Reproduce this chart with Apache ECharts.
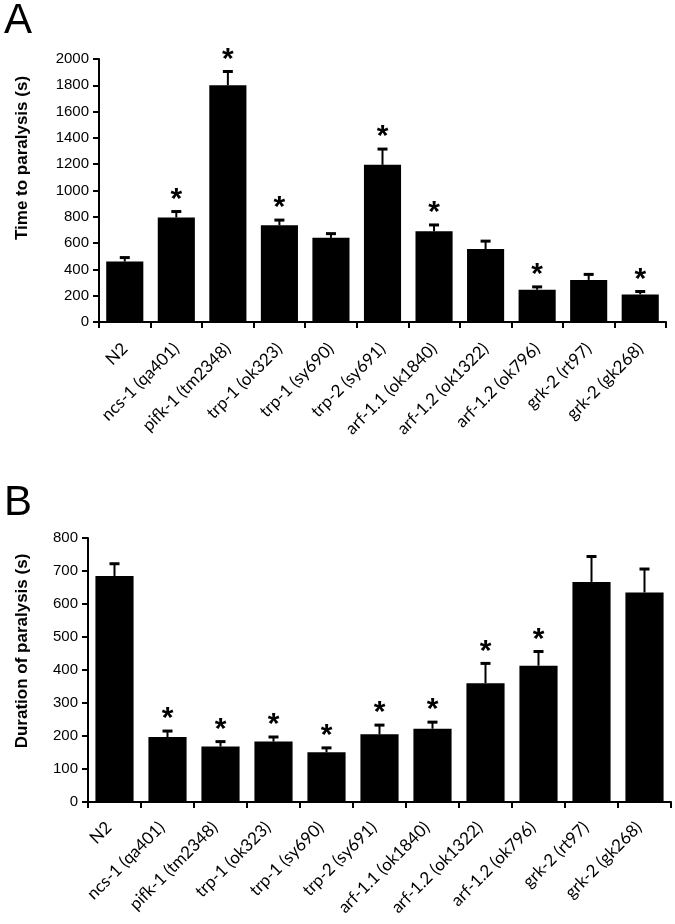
<!DOCTYPE html>
<html>
<head>
<meta charset="utf-8">
<script src="https://cdn.jsdelivr.net/npm/echarts@6/dist/echarts.min.js"></script>
<style>
html,body{margin:0;padding:0;background:#fff;}
#c{width:675px;height:924px;}
</style>
</head>
<body>
<div id="c"></div>
<script>
const categories = ['N2','ncs-1 (qa401)','pifk-1 (tm2348)','trp-1 (ok323)','trp-1 (sy690)','trp-2 (sy691)','arf-1.1 (ok1840)','arf-1.2 (ok1322)','arf-1.2 (ok796)','grk-2 (rt97)','grk-2 (gk268)'];

const timeMean = [460, 795, 1800, 735, 640, 1195, 690, 555, 245, 320, 210];
const timeErr  = [30, 45, 105, 40, 32, 120, 48, 60, 22, 42, 22];
const timeSig  = [0, 1, 1, 1, 0, 1, 1, 0, 1, 0, 1];

const durMean = [685, 197, 168, 183, 151, 205, 222, 360, 413, 667, 635];
const durErr  = [37, 18, 15, 14, 13, 28, 20, 60, 43, 77, 71];
const durSig  = [0, 1, 1, 1, 1, 1, 1, 1, 1, 0, 0];

const timeTicks = {min: 0, max: 2000, interval: 200};
const durTicks = {min: 0, max: 800, interval: 100};

const chart = echarts.init(document.getElementById('c'));
const tickFont = 'Liberation Sans, Arial, sans-serif';
const catFont = 'Lato, Open Sans, sans-serif';

function errItem(params, api) {
  const i = api.value(0);
  const m = api.value(1);
  const e = api.value(2);
  const s = api.value(3);
  const p0 = api.coord([i, m]);
  const p1 = api.coord([i, m + e]);
  const children = [
    {type: 'line', shape: {x1: p0[0], y1: p0[1], x2: p1[0], y2: p1[1]}, style: {stroke: '#000', lineWidth: 2}},
    {type: 'line', shape: {x1: p1[0] - 5, y1: p1[1], x2: p1[0] + 5, y2: p1[1]}, style: {stroke: '#000', lineWidth: 3}}
  ];
  if (s) {
    children.push({type: 'text', style: {text: '*', x: p1[0], y: p1[1] + 3, textAlign: 'center', textVerticalAlign: 'bottom', font: 'bold 30px Liberation Sans, Arial, sans-serif', fill: '#000'}});
  }
  return {type: 'group', children: children};
}

function xAxisCfg(gi, margin, pad) {
  return {
    type: 'category', gridIndex: gi, data: categories, boundaryGap: true,
    axisLine: {lineStyle: {color: '#000', width: 2}},
    axisTick: {show: true, length: 6, lineStyle: {color: '#000', width: 2}},
    axisLabel: {rotate: 45, color: '#000', fontFamily: catFont, fontSize: 17, margin: margin, padding: [0, pad, 0, 0], interval: 0}
  };
}
function yAxisCfg(gi, t) {
  return {
    type: 'value', gridIndex: gi, min: t.min, max: t.max, interval: t.interval,
    splitLine: {show: false},
    axisLine: {show: true, lineStyle: {color: '#000', width: 2}},
    axisTick: {show: true, length: 6, lineStyle: {color: '#000', width: 2}},
    axisLabel: {color: '#000', fontFamily: tickFont, fontSize: 15, margin: 10, formatter: function (v) { return String(v); }}
  };
}

const option = {
  backgroundColor: '#fff',
  animation: false,
  grid: [
    {left: 99, right: 9, top: 59, bottom: 602},
    {left: 88, right: 4, top: 538, bottom: 122}
  ],
  xAxis: [xAxisCfg(0, 24, 0), xAxisCfg(1, 17, 8)],
  yAxis: [yAxisCfg(0, timeTicks), yAxisCfg(1, durTicks)],
  graphic: [
    {type: 'text', left: 4, top: 0, style: {text: 'A', font: '42px Liberation Sans, Arial, sans-serif', fill: '#000'}},
    {type: 'text', left: 4, top: 482, style: {text: 'B', font: '42px Liberation Sans, Arial, sans-serif', fill: '#000'}},
    {type: 'text', x: 22, y: 158, rotation: Math.PI / 2, style: {text: 'Time to paralysis (s)', font: 'bold 17px Liberation Sans, Arial, sans-serif', fill: '#000', textAlign: 'center', textVerticalAlign: 'middle'}},
    {type: 'text', x: 22, y: 651, rotation: Math.PI / 2, style: {text: 'Duration of paralysis (s)', font: 'bold 17px Liberation Sans, Arial, sans-serif', fill: '#000', textAlign: 'center', textVerticalAlign: 'middle'}}
  ],
  series: [
    {type: 'bar', xAxisIndex: 0, yAxisIndex: 0, data: timeMean, barCategoryGap: '28%', itemStyle: {color: '#000'}},
    {type: 'custom', xAxisIndex: 0, yAxisIndex: 0, renderItem: errItem,
     data: timeMean.map((v, i) => [i, v, timeErr[i], timeSig[i]]), z: 3},
    {type: 'bar', xAxisIndex: 1, yAxisIndex: 1, data: durMean, barCategoryGap: '28%', itemStyle: {color: '#000'}},
    {type: 'custom', xAxisIndex: 1, yAxisIndex: 1, renderItem: errItem,
     data: durMean.map((v, i) => [i, v, durErr[i], durSig[i]]), z: 3}
  ]
};
chart.setOption(option);
</script>
</body>
</html>
